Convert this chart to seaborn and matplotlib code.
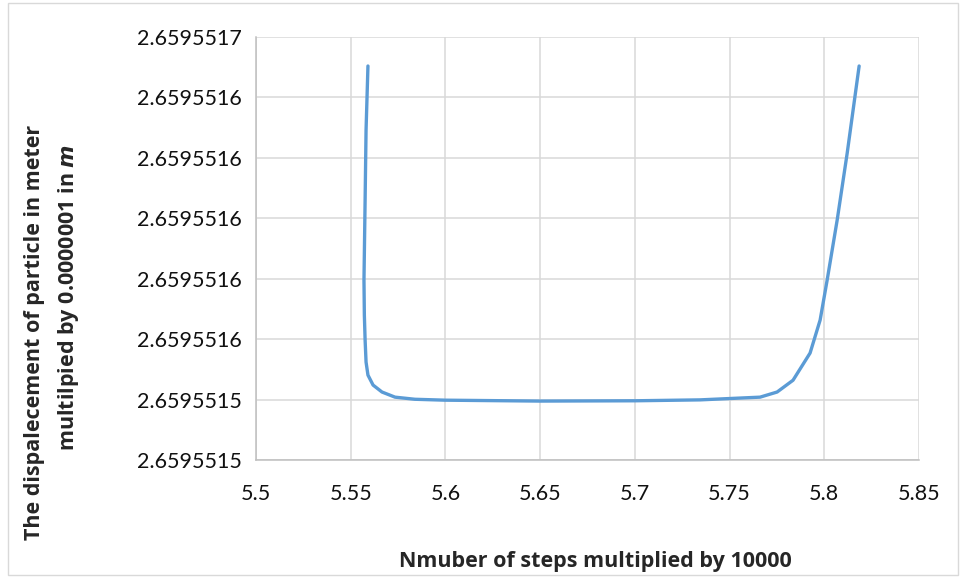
import matplotlib
matplotlib.use("Agg")
import matplotlib.pyplot as plt
import matplotlib.ticker as mticker
from matplotlib.patches import Rectangle
import numpy as np
import pandas as pd
import seaborn as sns

steps = [5.5591, 5.5581, 5.5576, 5.5570, 5.5572, 5.5576, 5.5581, 5.5591, 5.5618, 5.5665,
         5.5734, 5.5839, 5.5998, 5.6499, 5.7001, 5.7344, 5.7555, 5.7661, 5.7751,
         5.7835, 5.7925, 5.7978, 5.8015, 5.8068, 5.8121, 5.8184]
displacement = [2.6595516504, 2.6595516292, 2.6595516060, 2.6595515795, 2.6595515680,
                2.6595515597, 2.6595515524, 2.6595515481, 2.6595515448, 2.6595515425,
                2.6595515408, 2.6595515401, 2.6595515398, 2.6595515395, 2.6595515396,
                2.6595515399, 2.6595515405, 2.6595515408, 2.6595515425, 2.6595515464,
                2.6595515554, 2.6595515663, 2.6595515795, 2.6595515994, 2.6595516216,
                2.6595516504]
x_ticks = [5.5, 5.55, 5.6, 5.65, 5.7, 5.75, 5.8, 5.85]
y_ticks = [2.65955152, 2.65955154, 2.65955156, 2.65955158, 2.65955160,
           2.65955162, 2.65955164, 2.65955166]

df = pd.DataFrame({"steps": steps, "disp": displacement})

sns.set_theme(style="whitegrid")
plt.rcParams['font.family'] = ['Lato', 'DejaVu Sans']

fig = plt.figure(figsize=(9.62, 5.77), dpi=100)
ax = fig.add_axes([256/962, 1-460/577, (919-256)/962, (460-37)/577])

sns.lineplot(data=df, x="steps", y="disp", sort=False, estimator=None,
             color="#5B9BD5", linewidth=2.4, ax=ax)

ax.set_xlim(x_ticks[0], x_ticks[-1])
ax.set_ylim(y_ticks[0], y_ticks[-1])
ax.set_xticks(x_ticks)
ax.set_yticks(y_ticks)
ax.xaxis.set_major_formatter(mticker.FuncFormatter(lambda v, p: f"{v:g}"))
ax.yaxis.set_major_formatter(mticker.FuncFormatter(lambda v, p: f"{v:.7f}"))
ax.tick_params(axis="both", labelsize=15.5, colors="#111111", length=0)
ax.tick_params(axis="x", pad=17)
ax.tick_params(axis="y", pad=10)
ax.grid(True, color="#D9D9D9", linewidth=1.1)
for s in ["top", "right"]:
    ax.spines[s].set_visible(False)
for s in ["left", "bottom"]:
    ax.spines[s].set_color("#BFBFBF")
    ax.spines[s].set_linewidth(1.1)
ax.set_xlabel("")
ax.set_ylabel("")

bold = dict(fontweight="bold", family=["Open Sans", "DejaVu Sans"], fontsize=15.5)
fig.text(595/962, 1-561/577, "Nmuber of steps multiplied by 10000",
         ha="center", va="center", **bold)
fig.text(35/962, 1-332/577, "The dispalecement of particle in meter",
         ha="center", va="center", rotation=90, **bold)
fig.text(69/962, 1-297/577, r"multilpied by 0.0000001 in $\mathbfit{m}$",
         ha="center", va="center", rotation=90, **bold)

fig.patches.append(Rectangle((8/962, 2/577), 950/962, 572/577, transform=fig.transFigure,
                             fill=False, edgecolor="#D9D9D9", linewidth=1))

fig.savefig("out.png", dpi=100)
